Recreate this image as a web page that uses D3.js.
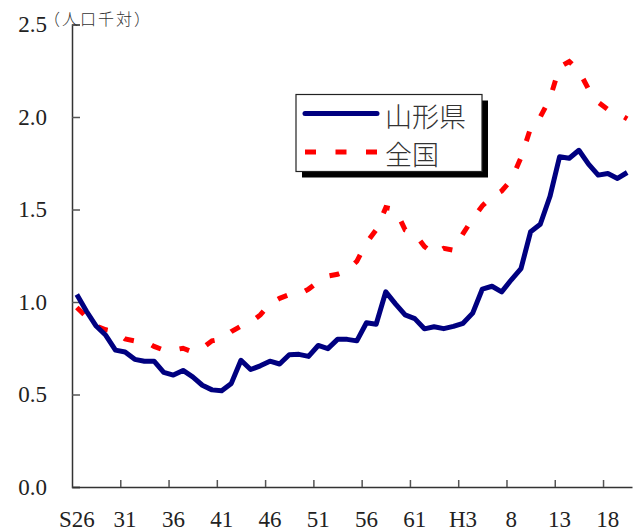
<!DOCTYPE html>
<html>
<head>
<meta charset="utf-8">
<script src="https://cdn.jsdelivr.net/npm/d3@7"></script>
<style>
  body { margin: 0; background: #fff; }
  svg { display: block; }
</style>
</head>
<body>
<div id="chart"></div>
<script>
// categories: calendar years S26 (1951) .. H20 (2008)
const years = d3.range(1951, 2009);

// divorce rate per 1000 population
const yamagata = [
  1.04, 0.95, 0.87, 0.82, 0.74, 0.73, 0.69, 0.68, 0.68, 0.62,
  0.605, 0.63, 0.595, 0.55, 0.525, 0.52, 0.56, 0.685, 0.635, 0.655,
  0.68, 0.665, 0.715, 0.717, 0.706, 0.765, 0.748, 0.798, 0.798, 0.79,
  0.888, 0.88, 1.055, 0.99, 0.93, 0.91, 0.855, 0.866, 0.856, 0.868,
  0.885, 0.94, 1.07, 1.085, 1.055, 1.12, 1.18, 1.38, 1.42, 1.57,
  1.785, 1.777, 1.82, 1.745, 1.686, 1.695, 1.668, 1.70
];
const national = [
  0.97, 0.92, 0.87, 0.85, 0.84, 0.80, 0.79, 0.79, 0.76, 0.74,
  0.74, 0.75, 0.73, 0.75, 0.79, 0.80, 0.84, 0.87, 0.89, 0.93,
  0.99, 1.02, 1.04, 1.04, 1.07, 1.11, 1.14, 1.15, 1.17, 1.22,
  1.32, 1.39, 1.51, 1.50, 1.39, 1.37, 1.30, 1.26, 1.29, 1.28,
  1.37, 1.45, 1.52, 1.57, 1.60, 1.66, 1.78, 1.94, 2.00, 2.10,
  2.27, 2.30, 2.25, 2.15, 2.08, 2.04, 2.02, 1.99
];

// tick labels (every 5 years)
const tickYears = [1951, 1956, 1961, 1966, 1971, 1976, 1981, 1986, 1991, 1996, 2001, 2006];
const tickLabels = ['S26', '31', '36', '41', '46', '51', '56', '61', 'H3', '8', '13', '18'];
const yTicks = [0, 0.5, 1.0, 1.5, 2.0, 2.5];

const seriesNames = ['山形県', '全国'];
const unitLabel = '（人口千対）';

const width = 635;
const height = 531;
const plotLeft = 72;
const plotRight = 632;
const plotTop = 24.5;
const plotBottom = 487;

const svg = d3.select('#chart').append('svg')
  .attr('width', width)
  .attr('height', height);

// scales
const x = d3.scaleBand().domain(years).range([plotLeft, plotRight]).padding(0);
const xEdge = d3.scaleLinear().domain([0, years.length]).range([plotLeft, plotRight]);
const y = d3.scaleLinear().domain([0, 2.5]).range([plotBottom, plotTop]);

const serif = '"Liberation Serif", "Times New Roman", serif';
const cjk = '"Noto Sans CJK JP", sans-serif';

// Y axis
const yAxis = svg.append('g')
  .attr('transform', `translate(${plotLeft},0)`)
  .call(d3.axisLeft(y).tickValues(yTicks).tickSize(-8).tickPadding(25)
    .tickFormat(d3.format('.1f')));
yAxis.select('.domain').attr('stroke', '#333').attr('stroke-width', 1.5);
yAxis.selectAll('.tick line').attr('stroke', '#555').attr('stroke-width', 1.5);
yAxis.selectAll('text').attr('font-family', serif).attr('font-size', 23).attr('fill', '#222');

// X axis tick marks at category boundaries
const xMarks = svg.append('g')
  .attr('transform', `translate(0,${plotBottom})`)
  .call(d3.axisBottom(xEdge).tickValues(d3.range(5, years.length, 5)).tickSize(-7)
    .tickFormat('').tickSizeOuter(0));
xMarks.select('.domain').attr('stroke', '#333').attr('stroke-width', 1.5);
xMarks.selectAll('.tick line').attr('stroke', '#555').attr('stroke-width', 1.5);

// X axis labels centred on categories
const xLabels = svg.append('g')
  .attr('transform', `translate(0,${plotBottom})`)
  .call(d3.axisBottom(x).tickValues(tickYears).tickSize(0).tickPadding(24)
    .tickFormat((d) => tickLabels[tickYears.indexOf(d)]));
xLabels.select('.domain').remove();
xLabels.selectAll('text').attr('font-family', serif).attr('font-size', 23).attr('fill', '#222');

// unit label
svg.append('text')
  .attr('x', 44)
  .attr('y', 18)
  .attr('dominant-baseline', 'central')
  .attr('font-family', cjk)
  .attr('font-size', 16)
  .attr('font-weight', 300)
  .attr('letter-spacing', 2)
  .attr('fill', '#333')
  .text(unitLabel);

// lines
const line = (values) => d3.line()
  .x((d, i) => x(years[i]) + x.bandwidth() / 2)
  .y((d) => y(d))(values);

svg.append('path')
  .attr('d', line(national))
  .attr('fill', 'none')
  .attr('stroke', '#ff0000')
  .attr('stroke-width', 5)
  .attr('stroke-dasharray', '10,19');

svg.append('path')
  .attr('d', line(yamagata))
  .attr('fill', 'none')
  .attr('stroke', '#000080')
  .attr('stroke-width', 5)
  .attr('stroke-linejoin', 'round');

// legend
const legend = svg.append('g');
const lx = 296, ly = 94.5, lw = 186, lh = 77;
legend.append('rect')
  .attr('x', lx + 6).attr('y', ly + 6).attr('width', lw).attr('height', lh)
  .attr('fill', '#000');
legend.append('rect')
  .attr('x', lx).attr('y', ly).attr('width', lw).attr('height', lh)
  .attr('fill', '#fff').attr('stroke', '#222').attr('stroke-width', 1.2);

legend.append('line')
  .attr('x1', 305).attr('x2', 377).attr('y1', 113.5).attr('y2', 113.5)
  .attr('stroke', '#000080').attr('stroke-width', 5).attr('stroke-linecap', 'round');
legend.append('line')
  .attr('x1', 305).attr('x2', 378).attr('y1', 152).attr('y2', 152)
  .attr('stroke', '#ff0000').attr('stroke-width', 5).attr('stroke-dasharray', '11,19.5');

legend.selectAll('text.name')
  .data(seriesNames)
  .enter()
  .append('text')
  .attr('class', 'name')
  .attr('x', 385)
  .attr('y', (d, i) => [115, 153][i])
  .attr('dominant-baseline', 'central')
  .attr('font-family', cjk)
  .attr('font-size', 27)
  .attr('font-weight', 300)
  .attr('fill', '#333')
  .text((d) => d);
</script>
</body>
</html>
